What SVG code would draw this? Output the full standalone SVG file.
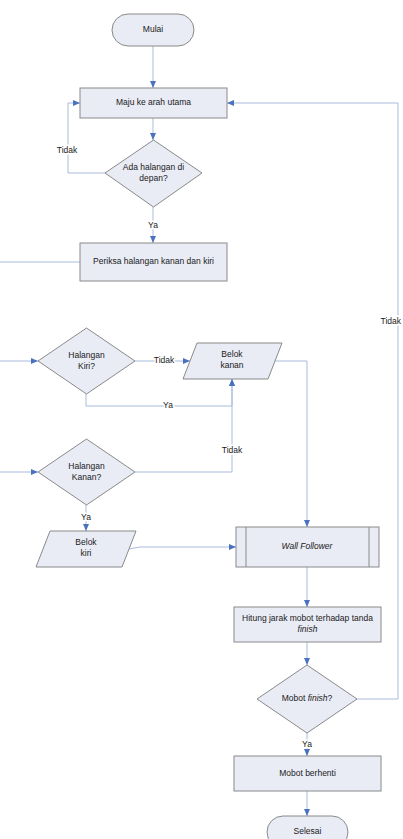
<svg xmlns="http://www.w3.org/2000/svg" width="403" height="839" viewBox="0 0 403 839">
<style>
.n{fill:#e9ecf5;stroke:#8a8a8a;stroke-width:1}
.t{font-family:"Liberation Sans",Arial,sans-serif;font-size:8.5px;fill:#1a1a1a;text-anchor:middle;dominant-baseline:middle}
.i{font-style:italic}
.c{fill:none;stroke:#a9bbdd;stroke-width:1}
.l{font-family:"Liberation Sans",Arial,sans-serif;font-size:8.5px;fill:#1a1a1a;text-anchor:middle;dominant-baseline:middle;stroke:#fff;stroke-width:3;paint-order:stroke}
</style>
<defs>
<marker id="a" markerUnits="userSpaceOnUse" markerWidth="8" markerHeight="7" refX="7" refY="3" orient="auto">
<path d="M0,0 L7,3 L0,6 z" fill="#4a72bf"/>
</marker>
</defs>
<rect width="403" height="839" fill="#fff"/>
<g id="connectors">
<path class="c" d="M153,46 V88" marker-end="url(#a)"/>
<path class="c" d="M153,118 V140" marker-end="url(#a)"/>
<path class="c" d="M105,173 H68 V103 H80" marker-end="url(#a)"/>
<path class="c" d="M153,207 V243" marker-end="url(#a)"/>
<path class="c" d="M80,262 H0"/>
<path class="c" d="M0,361 H38" marker-end="url(#a)"/>
<path class="c" d="M135,361 H190" marker-end="url(#a)"/>
<path class="c" d="M86,394 V406 H232 V379" marker-end="url(#a)"/>
<path class="c" d="M0,472 H38" marker-end="url(#a)"/>
<path class="c" d="M135,472 H232 V379" marker-end="url(#a)"/>
<path class="c" d="M86,505 V531" marker-end="url(#a)"/>
<path class="c" d="M129,549 L140,547 H236" marker-end="url(#a)"/>
<path class="c" d="M275,361 H307 V527" marker-end="url(#a)"/>
<path class="c" d="M307,567 V607" marker-end="url(#a)"/>
<path class="c" d="M307,642 V665" marker-end="url(#a)"/>
<path class="c" d="M357,699 H398 V103 H227" marker-end="url(#a)"/>
<path class="c" d="M307,733 V756" marker-end="url(#a)"/>
<path class="c" d="M307,791 V816" marker-end="url(#a)"/>
<text class="l" x="67" y="151">Tidak</text>
<text class="l" x="153" y="226">Ya</text>
<text class="l" x="164" y="361">Tidak</text>
<text class="l" x="168" y="406">Ya</text>
<text class="l" x="232" y="451">Tidak</text>
<text class="l" x="86" y="518">Ya</text>
<text class="l" x="401" y="322" style="text-anchor:end">Tidak</text>
<text class="l" x="307" y="745">Ya</text>
</g>
<g id="mulai">
<rect class="n" x="112" y="14" width="82" height="32" rx="16"/>
<text class="t" x="153" y="30">Mulai</text>
</g>
<g id="maju">
<rect class="n" x="80" y="88" width="147" height="30"/>
<text class="t" x="153.5" y="103">Maju ke arah utama</text>
</g>
<g id="ada-halangan">
<path class="n" d="M153.5,140 L202,173 L153.5,207 L105,173 z"/>
<text class="t" x="153.5" y="168">Ada halangan di</text>
<text class="t" x="153.5" y="179">depan?</text>
</g>
<g id="periksa">
<rect class="n" x="80" y="243" width="147" height="38"/>
<text class="t" x="153.5" y="262">Periksa halangan kanan dan kiri</text>
</g>
<g id="halangan-kiri">
<path class="n" d="M86.5,328 L135,361 L86.5,394 L38,361 z"/>
<text class="t" x="86.5" y="356">Halangan</text>
<text class="t" x="86.5" y="367">Kiri?</text>
</g>
<g id="belok-kanan">
<path class="n" d="M197,343 L282,343 L268,379 L183,379 z"/>
<text class="t" x="232" y="355">Belok</text>
<text class="t" x="232" y="366">kanan</text>
</g>
<g id="halangan-kanan">
<path class="n" d="M86.5,439 L135,472 L86.5,505 L38,472 z"/>
<text class="t" x="86.5" y="467">Halangan</text>
<text class="t" x="86.5" y="478">Kanan?</text>
</g>
<g id="belok-kiri">
<path class="n" d="M50,531 L136,531 L122,567 L36,567 z"/>
<text class="t" x="86" y="543">Belok</text>
<text class="t" x="86" y="554">kiri</text>
</g>
<g id="wall-follower">
<rect class="n" x="236" y="527" width="143" height="40"/>
<line x1="246" y1="527" x2="246" y2="567" stroke="#8a8a8a"/>
<line x1="369" y1="527" x2="369" y2="567" stroke="#8a8a8a"/>
<text class="t i" x="307" y="547">Wall Follower</text>
</g>
<g id="hitung">
<rect class="n" x="234" y="607" width="147" height="35"/>
<text class="t" x="307.5" y="619">Hitung jarak mobot terhadap tanda</text>
<text class="t i" x="307.5" y="630">finish</text>
</g>
<g id="mobot-finish">
<path class="n" d="M307,665 L357,699 L307,733 L257,699 z"/>
<text class="t" x="307" y="699">Mobot <tspan class="i">finish</tspan>?</text>
</g>
<g id="berhenti">
<rect class="n" x="234" y="756" width="147" height="35"/>
<text class="t" x="307.5" y="773.5">Mobot berhenti</text>
</g>
<g id="selesai">
<rect class="n" x="267" y="816" width="81" height="32" rx="16"/>
<text class="t" x="307.5" y="832">Selesai</text>
</g>
</svg>
